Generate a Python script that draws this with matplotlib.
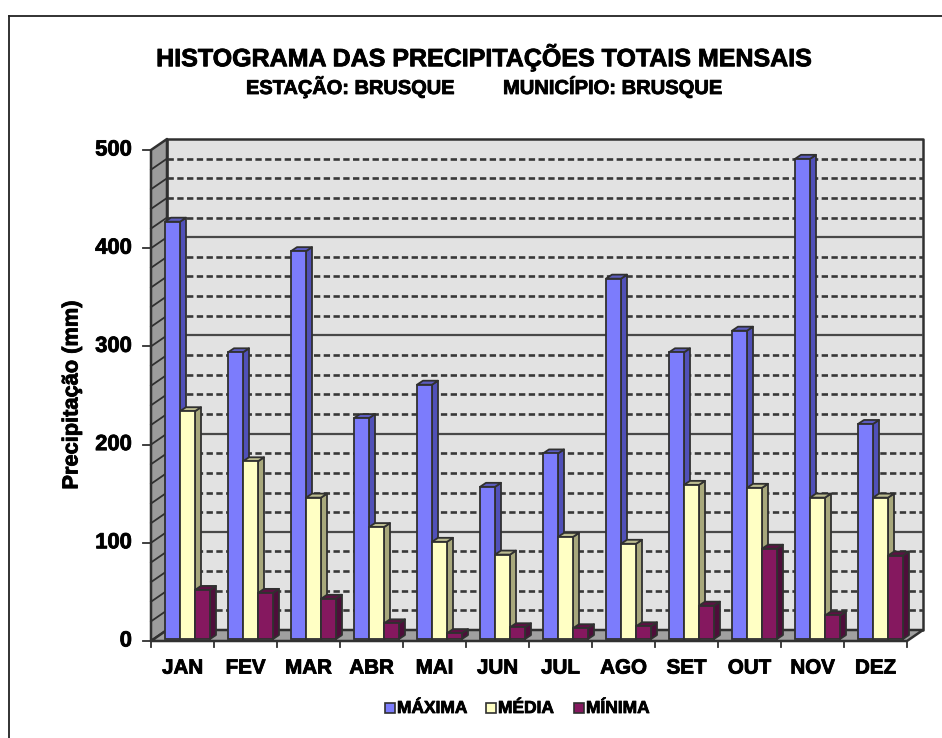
import matplotlib
matplotlib.use('Agg')
import matplotlib.pyplot as plt
import matplotlib.patheffects as pe
from matplotlib.patches import Polygon, Rectangle

plt.rcParams['font.family'] = ['Liberation Sans', 'DejaVu Sans']

MONTHS = ['JAN', 'FEV', 'MAR', 'ABR', 'MAI', 'JUN', 'JUL', 'AGO', 'SET', 'OUT', 'NOV', 'DEZ']
MAXIMA = [425, 292, 395, 225, 259, 155, 189, 367, 292, 314, 489, 219]
MEDIA = [232, 181, 144, 114, 99, 86, 104, 97, 157, 154, 144, 144]
MINIMA = [50, 47, 41, 16, 6, 12, 11, 13, 34, 92, 24, 85]
SERIES_NAMES = ['MÁXIMA', 'MÉDIA', 'MÍNIMA']

W, H = 942, 738
# cores: frente, lateral, topo
CORES = [('#7c7cfc', '#5050b8', '#5c5cc0'),
         ('#ffffc4', '#a8a87c', '#bcbc90'),
         ('#85185f', '#4e0e3a', '#5e1044')]

fig = plt.figure(figsize=(W / 100, H / 100), dpi=100, facecolor='white')
# eixo principal: x em meses, y em mm (plano da frente)
ax = fig.add_axes([151 / W, 1 - 641 / H, 756 / W, 491 / H])
ax.set_xlim(0, 12)
ax.set_ylim(0, 500)
ax.axis('off')

DX = 16 / 63   # profundidade da caixa em unidades de x
DY = 11 / 0.982  # profundidade da caixa em mm
LINE = '#303030'
BOLD = [pe.withStroke(linewidth=0.6, foreground='black')]


def poly(pts, color, edge=LINE, lw=1.3, z=1):
    ax.add_patch(Polygon(pts, closed=True, facecolor=color, edgecolor=edge, lw=lw,
                         zorder=z, clip_on=False, joinstyle='round'))


# parede do fundo, parede lateral, chao
poly([(DX, DY), (12 + DX, DY), (12 + DX, 500 + DY), (DX, 500 + DY)], '#e2e2e2', lw=1.8)
poly([(0, 0), (DX, DY), (DX, 500 + DY), (0, 500)], '#9c9c9c', lw=1.8)
poly([(0, 0), (12, 0), (12 + DX, DY), (DX, DY)], '#a0a0a0', lw=1.8)

for v in range(20, 500, 20):
    major = v % 100 == 0
    ax.plot([DX, 12 + DX], [v + DY, v + DY], color='#484848' if major else '#383838', lw=1.6 if major else 1.9,
            ls='-' if major else (0, (2.4, 1.3)), zorder=2, clip_on=False,
            solid_capstyle='butt', dash_capstyle='butt')
    ax.plot([0, DX], [v, v + DY], color=LINE, lw=1.3, zorder=2, clip_on=False)

# barras com falsa perspectiva
BAR_W = 15 / 63
BAR_DX = 6 / 63
BAR_DY = 4 / 0.982
BASE = 2
START = 14 / 63
for i, values in enumerate([MAXIMA, MEDIA, MINIMA]):
    front, side, top = CORES[i]
    for m, v in enumerate(values):
        x0 = m + START + i * BAR_W
        x1 = x0 + BAR_W
        y1 = BASE + v
        z = 3 + i * 0.1
        poly([(x1, BASE), (x1 + BAR_DX, BASE + BAR_DY), (x1 + BAR_DX, y1 + BAR_DY), (x1, y1)], side, z=z)
        poly([(x0, y1), (x1, y1), (x1 + BAR_DX, y1 + BAR_DY), (x0 + BAR_DX, y1 + BAR_DY)], top, z=z)
        ax.bar(x0, v, width=BAR_W, bottom=BASE, align='edge', color=front, edgecolor=LINE, lw=1.3,
               zorder=z, clip_on=False)

# ticks e rotulos dos eixos
for v in range(0, 600, 100):
    ax.plot([-0.127, 0], [v, v], color=LINE, lw=1.3, clip_on=False)
    ax.annotate(str(v), (0, v), xytext=(-13.7, 0), textcoords='offset points', ha='right', va='center',
                fontsize=15.8, fontweight='bold', color='black', path_effects=BOLD)
for m in range(13):
    ax.plot([m, m], [0, -6], color=LINE, lw=1.3, clip_on=False)
for m, name in enumerate(MONTHS):
    ax.annotate(name, (m + 0.5, 0), xytext=(0, -19.5), textcoords='offset points', ha='center', va='center',
                fontsize=14.8, fontweight='bold', color='black', path_effects=BOLD)

fig.text(72 / W, 1 - 395 / H, 'Precipitação (mm)', rotation=90, ha='center', va='center',
         fontsize=15.7, fontweight='bold', path_effects=BOLD)
fig.text(483 / W, 1 - 57 / H, 'HISTOGRAMA DAS PRECIPITAÇÕES TOTAIS MENSAIS', ha='center', va='center',
         fontsize=18, fontweight='bold', path_effects=BOLD)
fig.text(350.5 / W, 1 - 87 / H, 'ESTAÇÃO: BRUSQUE', ha='center', va='center', fontsize=14.4,
         fontweight='bold', path_effects=BOLD)
fig.text(613 / W, 1 - 87 / H, 'MUNICÍPIO: BRUSQUE', ha='center', va='center', fontsize=14.5,
         fontweight='bold', path_effects=BOLD)

# legenda
legend_x = [385, 486, 574]
for lx, name, cores in zip(legend_x, SERIES_NAMES, CORES):
    fig.add_artist(Rectangle((lx / W, 1 - 713 / H), 10 / W, 10 / H, transform=fig.transFigure,
                             facecolor=cores[0], edgecolor=LINE, lw=1.2))
    fig.text((lx + 12) / W, 1 - 708.5 / H, name, ha='left', va='center', fontsize=12.5, fontweight='bold',
             path_effects=BOLD)

# moldura da figura
fig.add_artist(plt.Line2D([8.5 / W, 8.5 / W], [0, 1 - 15.5 / H], color='#222222', lw=1.3))
fig.add_artist(plt.Line2D([8.5 / W, 1], [1 - 15.5 / H, 1 - 15.5 / H], color='#222222', lw=1.3))

fig.savefig('out.png', dpi=100, facecolor='white')
